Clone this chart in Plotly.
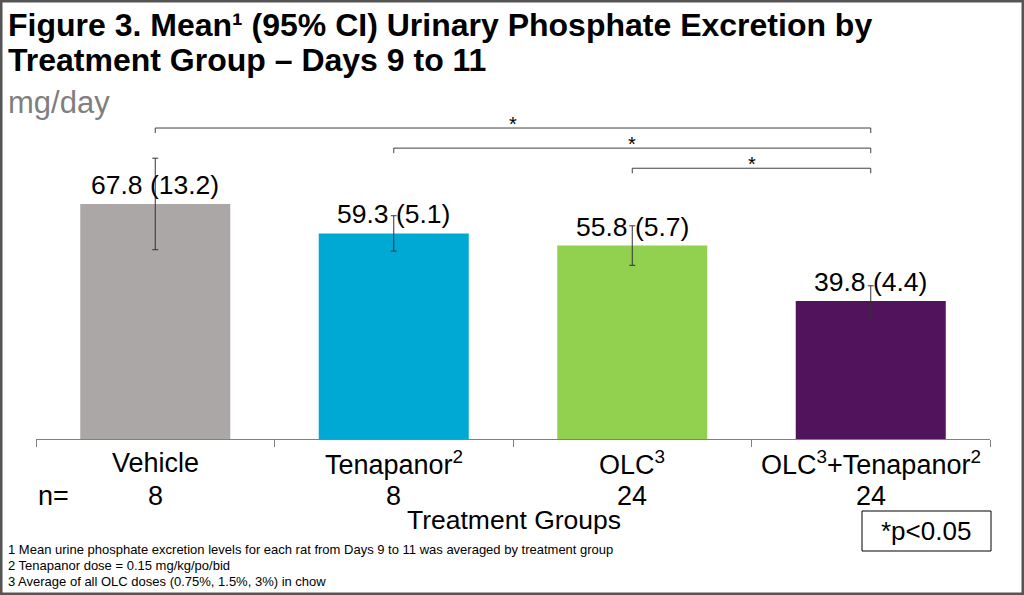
import plotly.graph_objects as go

# ---- data ----
categories = ["Vehicle", "Tenapanor", "OLC", "OLC+Tenapanor"]
cat_labels = ["Vehicle", "Tenapanor<sup>2</sup>", "OLC<sup>3</sup>", "OLC<sup>3</sup>+Tenapanor<sup>2</sup>"]
means = [67.8, 59.3, 55.8, 39.8]
ci = [13.2, 5.1, 5.7, 4.4]
n_values = [8, 8, 24, 24]
bar_colors = ["#ABA7A6", "#00A9D4", "#92D050", "#50135C"]
comparisons = [(0, 3), (1, 3), (2, 3)]  # significant pairs (p<0.05)
footnotes = [
    "1 Mean urine phosphate excretion levels for each rat from Days 9 to 11 was averaged by treatment group",
    "2 Tenapanor dose = 0.15 mg/kg/po/bid",
    "3 Average of all OLC doses (0.75%, 1.5%, 3%) in chow",
]

W, H = 1024, 595
ML, MR, MT, MB = 36, 34, 110, 156
PW, PH = W - ML - MR, H - MT - MB
YMAX = 94.9
FONT = "Liberation Sans, Arial, sans-serif"


def px(x):
    return (x - ML) / PW


def py(y):
    return (H - MB - y) / PH


fig = go.Figure()
fig.add_trace(go.Bar(
    x=categories, y=means,
    marker=dict(color=bar_colors, line=dict(width=0)),
    error_y=dict(type="data", array=ci, visible=True, color="#333333", thickness=1, width=3),
    cliponaxis=False,
    hoverinfo="skip",
))

shapes = []
annotations = []

# value labels: mean (CI)
for cat, m, c in zip(categories, means, ci):
    annotations.append(dict(x=cat, y=m, xref="x", yref="y", text=f"{m:.1f} ({c:.1f})",
                            showarrow=False, xanchor="center", yanchor="bottom", yshift=2,
                            font=dict(size=26.5, color="#000", family=FONT)))

# significance brackets
unit = YMAX / PH  # data units per pixel
top_level = 89.7
step = 5.8
for k, (a, b) in enumerate(comparisons):
    lvl = top_level - k * step
    drop = 5 * unit
    for x0, y0, x1, y1 in [(a, lvl, b, lvl), (a, lvl, a, lvl - drop), (b, lvl, b, lvl - drop)]:
        shapes.append(dict(type="line", xref="x", yref="y", x0=x0, y0=y0, x1=x1, y1=y1,
                           line=dict(color="#404040", width=1)))
    annotations.append(dict(x=(a + b) / 2, y=lvl, xref="x", yref="y", text="*", showarrow=False,
                            xanchor="center", yanchor="bottom", yshift=-9,
                            font=dict(size=20, color="#000", family=FONT)))

# category labels and n
for i, lab in enumerate(cat_labels):
    annotations.append(dict(x=i, y=py(463), xref="x", yref="paper", text=lab, showarrow=False,
                            xanchor="center", yanchor="middle", font=dict(size=27, color="#000", family=FONT)))
    annotations.append(dict(x=i, y=py(496), xref="x", yref="paper", text=str(n_values[i]), showarrow=False,
                            xanchor="center", yanchor="middle", font=dict(size=27, color="#000", family=FONT)))
annotations.append(dict(x=px(36), y=py(496), xref="paper", yref="paper", text="n=", showarrow=False,
                        xanchor="left", yanchor="middle", font=dict(size=27, color="#000", family=FONT)))
annotations.append(dict(x=px(514), y=py(520), xref="paper", yref="paper", text="Treatment Groups",
                        showarrow=False, xanchor="center", yanchor="middle",
                        font=dict(size=26.5, color="#000", family=FONT)))

# title
annotations.append(dict(x=px(6), y=py(25), xref="paper", yref="paper",
                        text="<b>Figure 3. Mean¹ (95% CI) Urinary Phosphate Excretion by</b>",
                        showarrow=False, xanchor="left", yanchor="middle",
                        font=dict(size=32, color="#000", family=FONT)))
annotations.append(dict(x=px(6), y=py(60), xref="paper", yref="paper",
                        text="<b>Treatment Group – Days 9 to 11</b>",
                        showarrow=False, xanchor="left", yanchor="middle",
                        font=dict(size=32, color="#000", family=FONT)))
annotations.append(dict(x=px(6), y=py(102), xref="paper", yref="paper", text="mg/day",
                        showarrow=False, xanchor="left", yanchor="middle",
                        font=dict(size=31, color="#7F7F7F", family=FONT)))

# footnotes
for j, fn in enumerate(footnotes):
    annotations.append(dict(x=px(6), y=py(549 + 16 * j), xref="paper", yref="paper", text=fn,
                            showarrow=False, xanchor="left", yanchor="middle",
                            font=dict(size=13, color="#000", family=FONT)))

# p-value box
shapes.append(dict(type="rect", xref="paper", yref="paper", x0=px(862), x1=px(991), y0=py(511), y1=py(551),
                   line=dict(color="#000", width=1), fillcolor="rgba(0,0,0,0)"))
annotations.append(dict(x=px(926), y=py(531), xref="paper", yref="paper", text="*p<0.05",
                        showarrow=False, xanchor="center", yanchor="middle",
                        font=dict(size=26, color="#000", family=FONT)))

# outer border
shapes.append(dict(type="rect", xref="paper", yref="paper", x0=px(1), x1=px(W - 1), y0=py(1), y1=py(H - 1),
                   line=dict(color="#555555", width=3), fillcolor="rgba(0,0,0,0)", layer="above"))

fig.update_layout(
    width=W, height=H,
    margin=dict(l=ML, r=MR, t=MT, b=MB),
    paper_bgcolor="white", plot_bgcolor="white",
    showlegend=False,
    bargap=0.371,
    font=dict(family=FONT),
    xaxis=dict(type="category", range=[-0.5, 3.5], showticklabels=False, tickson="boundaries",
               ticks="outside", ticklen=7, tickcolor="#808080", showline=True, linecolor="#808080",
               linewidth=1, showgrid=False, zeroline=False, fixedrange=True),
    yaxis=dict(range=[0, YMAX], visible=False, showgrid=False, zeroline=False, fixedrange=True),
    shapes=shapes,
    annotations=annotations,
)

fig.write_html("out.html", config={"displayModeBar": False},
               post_script="document.body.style.margin='0';document.body.style.overflow='hidden';")
